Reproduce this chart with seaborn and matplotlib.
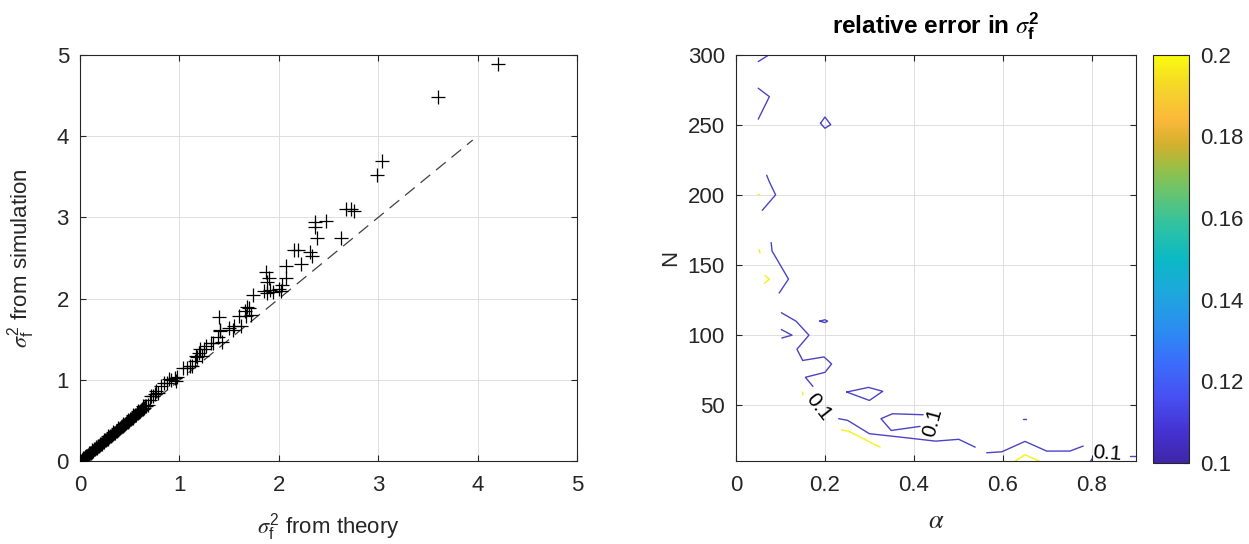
import numpy as np
import pandas as pd
import matplotlib
matplotlib.use("Agg")
import matplotlib.pyplot as plt
import seaborn as sns
from matplotlib.colors import LinearSegmentedColormap, Normalize
from matplotlib.cm import ScalarMappable
from matplotlib.ticker import FormatStrFormatter

# ---------------- data: left panel (sigma_f^2 theory vs simulation) ----------------
theory = [
    0.00, 0.01, 0.02, 0.03, 0.04, 0.05, 0.06, 0.07, 0.08, 0.09, 0.10, 0.11, 0.12, 0.13,
    0.14, 0.15, 0.16, 0.17, 0.18, 0.19, 0.20, 0.21, 0.22, 0.23, 0.24, 0.25, 0.26, 0.27,
    0.28, 0.29, 0.30, 0.31, 0.32, 0.33, 0.34, 0.35, 0.36, 0.37, 0.38, 0.39, 0.40, 0.41,
    0.42, 0.43, 0.44, 0.45, 0.46, 0.47, 0.48, 0.49, 0.50, 0.51, 0.52, 0.53, 0.54, 0.55,
    0.56, 0.57, 0.58, 0.59, 0.60, 0.61, 0.62, 0.63, 0.64, 0.65, 0.66, 0.68, 0.70, 0.71,
    0.73, 0.75, 0.76, 0.78, 0.81, 0.84, 0.87, 0.89, 0.91, 0.95, 0.96, 0.98, 1.04, 1.08,
    1.11, 1.13, 1.16, 1.17, 1.18, 1.20, 1.21, 1.23, 1.25, 1.27, 1.32, 1.34, 1.39, 1.40,
    1.41, 1.41, 1.43, 1.50, 1.54, 1.55, 1.60, 1.62, 1.66, 1.67, 1.68, 1.70, 1.72, 1.74,
    1.85, 1.87, 1.88, 1.88, 1.90, 1.91, 1.94, 2.00, 2.02, 2.03, 2.07, 2.07, 2.15, 2.19,
    2.22, 2.31, 2.33, 2.36, 2.36, 2.38, 2.47, 2.62, 2.67, 2.73, 2.76, 2.99, 3.04, 3.60,
    4.20,
    0.03, 0.06, 0.09, 0.12, 0.16, 0.20, 0.24, 0.28, 0.33, 0.38, 0.43, 0.48, 0.53, 0.58,
    0.63,
]
simulation = [
    0.00, 0.01, 0.02, 0.03, 0.04, 0.05, 0.06, 0.07, 0.08, 0.09, 0.10, 0.11, 0.12, 0.13,
    0.15, 0.15, 0.16, 0.17, 0.19, 0.19, 0.20, 0.22, 0.22, 0.24, 0.24, 0.26, 0.26, 0.28,
    0.28, 0.30, 0.31, 0.31, 0.33, 0.34, 0.35, 0.35, 0.37, 0.38, 0.39, 0.40, 0.41, 0.42,
    0.43, 0.44, 0.45, 0.46, 0.47, 0.48, 0.49, 0.50, 0.52, 0.52, 0.54, 0.54, 0.56, 0.57,
    0.57, 0.59, 0.60, 0.61, 0.62, 0.63, 0.64, 0.65, 0.66, 0.68, 0.68, 0.70, 0.75, 0.80,
    0.81, 0.83, 0.86, 0.84, 0.93, 0.96, 0.97, 1.01, 1.00, 1.02, 0.99, 1.04, 1.15, 1.15,
    1.17, 1.17, 1.24, 1.30, 1.28, 1.33, 1.38, 1.30, 1.38, 1.42, 1.45, 1.46, 1.53, 1.77,
    1.60, 1.62, 1.47, 1.64, 1.62, 1.66, 1.79, 1.66, 1.85, 1.79, 1.90, 1.88, 1.80, 2.05,
    2.10, 2.33, 2.20, 2.07, 2.26, 2.11, 2.08, 2.12, 2.09, 2.17, 2.40, 2.26, 2.60, 2.60,
    2.43, 2.58, 2.53, 2.94, 2.88, 2.74, 2.96, 2.74, 3.10, 3.10, 3.08, 3.52, 3.69, 4.48,
    4.89,
    0.04, 0.07, 0.10, 0.14, 0.18, 0.22, 0.27, 0.31, 0.36, 0.41, 0.46, 0.51, 0.57, 0.62,
    0.68,
]
ref_line_x = [0.0, 3.95]
ref_line_y = [0.0, 3.95]

# ---------------- data: right panel (relative error contours, alpha vs N) ----------------
level_01_paths = [
    [(0.050, 295), (0.075, 300)],
    [(0.050, 276), (0.075, 270), (0.050, 254)],
    [(0.190, 251), (0.200, 255.5), (0.213, 250), (0.200, 247.5), (0.190, 251)],
    [(0.069, 214), (0.074, 210), (0.089, 200), (0.059, 189)],
    [(0.079, 166), (0.081, 160), (0.118, 140), (0.097, 130)],
    [(0.102, 116), (0.135, 110), (0.164, 100), (0.137, 90), (0.150, 82), (0.198, 84.5),
     (0.215, 79.5), (0.200, 73.5), (0.156, 70), (0.173, 63.5)],
    [(0.231, 40.5), (0.251, 39.3), (0.300, 29.8), (0.380, 27.0), (0.449, 24.5),
     (0.501, 25.8), (0.538, 20.2)],
    [(0.102, 104), (0.126, 100), (0.103, 98)],
    [(0.188, 110), (0.200, 111), (0.206, 110), (0.200, 109), (0.188, 110)],
    [(0.249, 59.5), (0.298, 62.8), (0.330, 60), (0.300, 53.5), (0.249, 59.5)],
    [(0.421, 43.3), (0.352, 44), (0.326, 40.5), (0.349, 32.1), (0.414, 35)],
    [(0.564, 16.2), (0.598, 16.9), (0.650, 24.3), (0.699, 17.4), (0.751, 17.4), (0.781, 21)],
    [(0.886, 13.8), (0.900, 13.8)],
    [(0.797, 10), (0.801, 12)],
    [(0.646, 40), (0.652, 40)],
]
level_02_paths = [
    [(0.050, 200.5), (0.053, 200)],
    [(0.052, 161), (0.054, 158.5)],
    [(0.065, 142.5), (0.075, 140), (0.064, 137)],
    [(0.149, 59.5), (0.151, 57.5)],
    [(0.237, 32.5), (0.2525, 31.7), (0.324, 20.2)],
    [(0.627, 10), (0.650, 14.8), (0.684, 10)],
]
contour_levels = ["0.1", "0.2"]
label_text = "0.1"
label_alpha = [0.186, 0.442, 0.834]
label_N = [49, 38, 15.5]
label_rot = [-52, 75, -4]

cbar_ticks = [0.10, 0.12, 0.14, 0.16, 0.18, 0.20]

# ---------------- style ----------------
sns.set_style("white")
plt.rcParams.update({
    "font.family": ["Liberation Sans", "DejaVu Sans"],
    "mathtext.fontset": "custom",
    "mathtext.rm": "Liberation Sans",
    "mathtext.it": "STIXGeneral:italic",
    "mathtext.bf": "Liberation Sans:bold",
    "axes.edgecolor": "#262626",
    "axes.linewidth": 0.8,
    "xtick.color": "#262626",
    "ytick.color": "#262626",
    "text.color": "#262626",
    "axes.labelcolor": "#262626",
})

# parula-like colormap
parula = LinearSegmentedColormap.from_list("parula_like", [
    (0.00, "#3e26a8"), (0.08, "#4533d4"), (0.16, "#4750f2"), (0.25, "#3a6ffc"),
    (0.33, "#2a8ef0"), (0.42, "#1da8dc"), (0.50, "#0cb9c4"), (0.58, "#2ec2a3"),
    (0.67, "#6cc46b"), (0.72, "#96bf48"), (0.78, "#d2b02c"), (0.84, "#fbb83b"),
    (0.92, "#f5d52a"), (1.00, "#f9fb0e"),
])
norm = Normalize(0.1, 0.2)
level_colors = {"0.1": "#4c44c4", "0.2": "#f6f312"}

FS = 16
fig = plt.figure(figsize=(12.49, 5.44), dpi=100)
ax1 = fig.add_axes([0.0641, 0.1517, 0.398, 0.748])
ax2 = fig.add_axes([0.5893, 0.1517, 0.3203, 0.748])
cax = fig.add_axes([0.9231, 0.1490, 0.0288, 0.7508])

def style_axes(ax):
    ax.grid(True, color="#dedede", linewidth=0.7)
    ax.set_axisbelow(True)
    ax.tick_params(direction="in", length=4, width=0.8, labelsize=FS,
                   top=True, right=True, bottom=True, left=True)
    ax.tick_params(axis="x", pad=10)
    ax.tick_params(axis="y", pad=8)
    for s in ax.spines.values():
        s.set_visible(True)
        s.set_color("#262626")
        s.set_linewidth(0.8)

# ---- left panel ----
df_sc = pd.DataFrame({"theory": theory, "simulation": simulation})
sns.lineplot(x=ref_line_x, y=ref_line_y, ax=ax1, color="#404040", lw=0.9,
             linestyle=(0, (10, 6)), estimator=None, sort=False)
sns.scatterplot(data=df_sc, x="theory", y="simulation", ax=ax1, marker="+",
                color="black", s=90, linewidth=0.9, zorder=3)
ax1.set_xlim(0, 5)
ax1.set_ylim(0, 5)
ax1.set_xticks(range(6))
ax1.set_yticks(range(6))
style_axes(ax1)
ax1.set_xlabel(r"$\sigma_{\mathrm{f}}^{2}$ from theory", fontsize=FS, labelpad=11)
ax1.set_ylabel(r"$\sigma_{\mathrm{f}}^{2}$ from simulation", fontsize=FS, labelpad=14)

# ---- right panel ----
rows = []
for lev, paths in zip(contour_levels, [level_01_paths, level_02_paths]):
    for i, p in enumerate(paths):
        for order, (a, n) in enumerate(p):
            rows.append({"path": f"{lev}_{i}", "level": lev, "alpha": a, "N": n, "order": order})
df_ct = pd.DataFrame(rows)
sns.lineplot(data=df_ct, x="alpha", y="N", units="path", hue="level",
             palette=level_colors, estimator=None, sort=False, legend=False,
             lw=1.0, ax=ax2)
for a, n, r in zip(label_alpha, label_N, label_rot):
    ax2.text(a, n, label_text, rotation=r, ha="center", va="center",
             fontsize=15, color="black", rotation_mode="anchor")
ax2.set_xlim(0, 0.9)
ax2.set_ylim(10, 300)
ax2.set_xticks([0, 0.2, 0.4, 0.6, 0.8])
ax2.set_xticklabels(["0", "0.2", "0.4", "0.6", "0.8"])
ax2.set_yticks([50, 100, 150, 200, 250, 300])
style_axes(ax2)
ax2.set_xlabel(r"$\alpha$", fontsize=19, labelpad=9)
ax2.set_ylabel("N", fontsize=FS, labelpad=5)
ax2.set_title(r"relative error in $\sigma_{\mathbf{f}}^{\mathbf{2}}$", fontsize=17.5,
              fontweight="bold", color="black", pad=15)

# ---- colorbar ----
cb = fig.colorbar(ScalarMappable(norm=norm, cmap=parula), cax=cax)
cb.set_ticks(cbar_ticks)
cb.ax.yaxis.set_major_formatter(FormatStrFormatter("%g"))
cb.ax.tick_params(direction="in", length=4, width=0.8, labelsize=FS, pad=8,
                  color="#262626")
cb.outline.set_edgecolor("#262626")
cb.outline.set_linewidth(0.8)

fig.savefig("out.png", dpi=100)
